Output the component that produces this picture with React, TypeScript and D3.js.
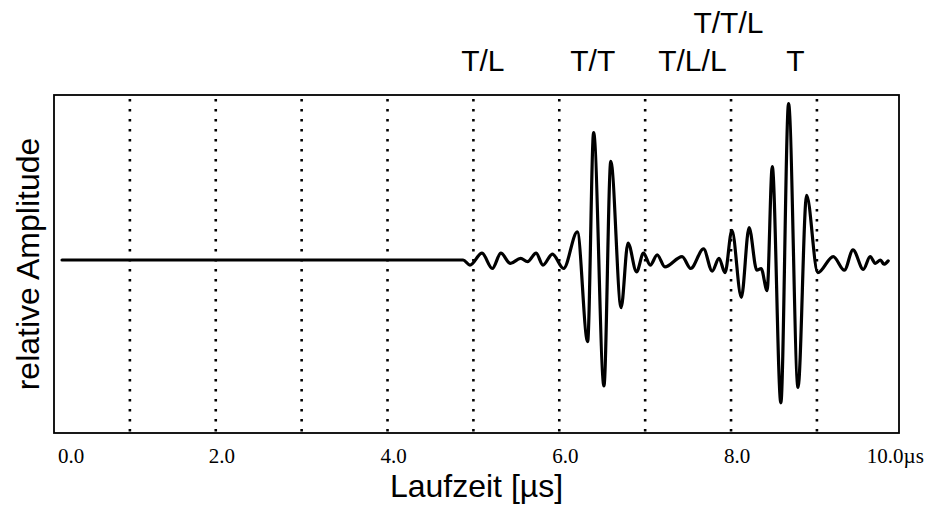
import * as d3 from "d3";
import React from "react";

// Laufzeit in µs, relative Amplitude
const times = [
    0.21, 4.88, 4.96, 5.10, 5.22, 5.32, 5.43, 5.55, 5.63, 5.73,
    5.81, 5.92, 6.05, 6.21, 6.33, 6.40, 6.52, 6.60, 6.72, 6.80,
    6.90, 6.98, 7.06, 7.14, 7.23, 7.43, 7.53, 7.68, 7.78, 7.86,
    7.93, 8.01, 8.12, 8.21, 8.30, 8.35, 8.42, 8.48, 8.58, 8.67,
    8.78, 8.88, 9.01, 9.19, 9.32, 9.42, 9.54, 9.62, 9.68, 9.74,
    9.78, 9.83
];
const amplitudes = [
    0, 0, -0.03, 0.04, -0.05, 0.04, -0.02, 0.01, -0.01, 0.04,
    -0.03, 0.035, -0.05, 0.165, -0.48, 0.75, -0.74, 0.58, -0.28, 0.10,
    -0.07, 0.04, -0.03, 0.03, -0.04, 0.02, -0.05, 0.065, -0.065, 0.01,
    -0.075, 0.175, -0.22, 0.19, -0.06, -0.05, -0.18, 0.55, -0.84, 0.92,
    -0.75, 0.38, -0.075, 0.02, -0.06, 0.06, -0.055, 0.02, -0.02, 0,
    -0.025, -0.005
];

const gridTimes = [1, 2, 3, 4, 5, 6, 7, 8, 9];
const tickValues = [0, 2, 4, 6, 8, 10];
const tickLabels = ["0.0", "2.0", "4.0", "6.0", "8.0", "10.0µs"];

// wave mode labels above the plot
const modeLabels = ["T/L", "T/T", "T/L/L", "T/T/L", "T"];
const modeTimes = [5.11, 6.39, 7.55, 7.97, 8.75];
const modeRows = [0, 0, 0, 1, 0];

const width = 926;
const height = 506;
const frame = {left: 54, right: 899, top: 95, bottom: 433};

export default function App() {
    const xScale = d3.scaleLinear().domain([0, 10]).range([44, 902.8]);
    const yScale = d3.scaleLinear().domain([-1, 1]).range([430, 90]);

    const points = times.map((t, i) => [t, amplitudes[i]]);
    const line = d3.line()
        .x(d => xScale(d[0]))
        .y(d => yScale(d[1]))
        .curve(d3.curveMonotoneX);

    const sans = "'Liberation Sans', Arial, sans-serif";
    const serif = "'Liberation Serif', 'Times New Roman', serif";

    return (
        <svg
            width={width}
            height={height}
            style={{position: "absolute", left: 0, top: 0, background: "white"}}
        >
            <rect x={0} y={0} width={width} height={height} fill="white" />
            {
                gridTimes.map(t => (
                    <line
                        key={t}
                        x1={xScale(t)}
                        x2={xScale(t)}
                        y1={frame.top + 4}
                        y2={frame.bottom + 1}
                        stroke="black"
                        strokeWidth={2.6}
                        strokeDasharray="2.6 7.4"
                    />
                ))
            }
            <rect
                x={frame.left}
                y={frame.top}
                width={frame.right - frame.left}
                height={frame.bottom - frame.top}
                fill="none"
                stroke="black"
                strokeWidth={1.8}
            />
            <path
                d={line(points)}
                fill="none"
                stroke="black"
                strokeWidth={3.2}
                strokeLinejoin="round"
                strokeLinecap="round"
            />
            {
                tickValues.map((v, i) => {
                    const first = i === 0;
                    const last = i === tickValues.length - 1;
                    return (
                        <text
                            key={v}
                            x={first ? xScale(v) + 27 : last ? xScale(v) - 36 : xScale(v) + 6}
                            y={463}
                            textAnchor={last ? "start" : "middle"}
                            fontFamily={serif}
                            fontSize={21}
                        >
                            {tickLabels[i]}
                        </text>
                    );
                })
            }
            {
                modeLabels.map((label, i) => (
                    <text
                        key={label}
                        x={xScale(modeTimes[i])}
                        y={modeRows[i] === 0 ? 71 : 33}
                        textAnchor="middle"
                        fontFamily={sans}
                        fontSize={30}
                    >
                        {label}
                    </text>
                ))
            }
            <text
                x={(frame.left + frame.right) / 2}
                y={497}
                textAnchor="middle"
                fontFamily={sans}
                fontSize={32}
            >
                Laufzeit [µs]
            </text>
            <text
                transform={`translate(39, ${(frame.top + frame.bottom) / 2}) rotate(-90)`}
                textAnchor="middle"
                fontFamily={sans}
                fontSize={32}
            >
                relative Amplitude
            </text>
        </svg>
    );
}
